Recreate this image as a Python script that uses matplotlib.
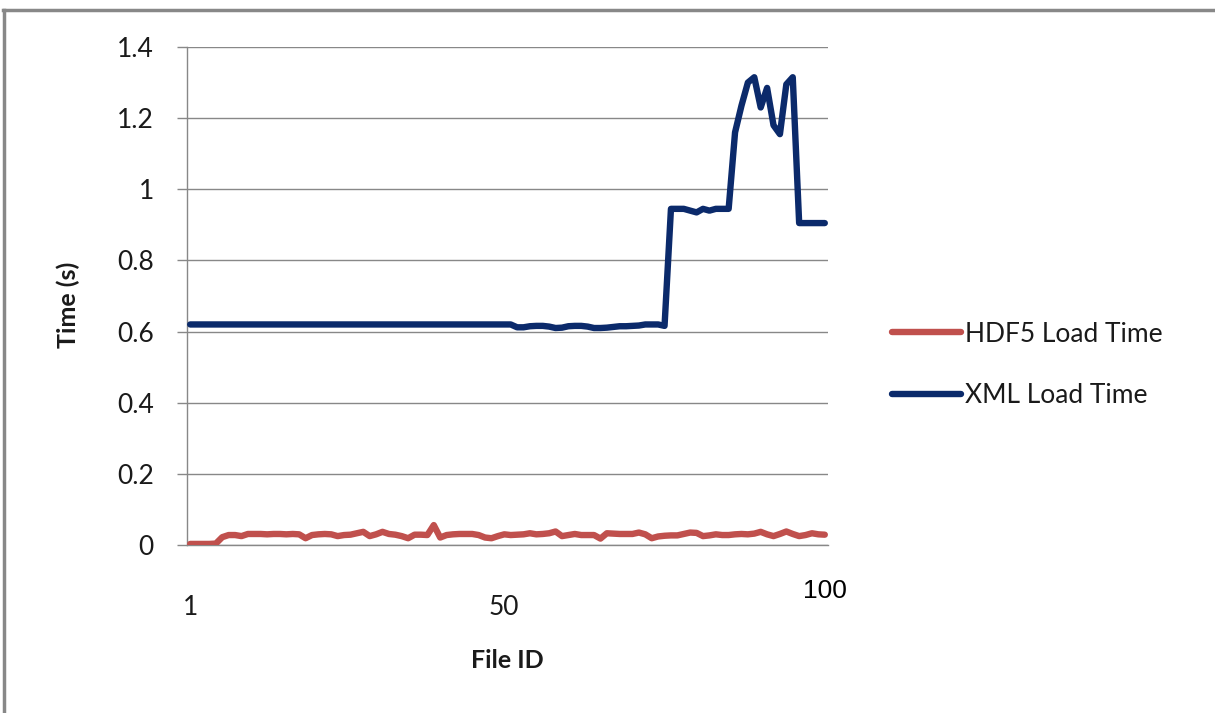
import matplotlib
matplotlib.use("Agg")
import matplotlib.pyplot as plt
from matplotlib.lines import Line2D

file_ids = list(range(1, 101))

hdf5_load = [
    0.003, 0.003, 0.003, 0.003, 0.004, 0.022, 0.028, 0.028, 0.025, 0.031,
    0.031, 0.031, 0.030, 0.031, 0.031, 0.030, 0.031, 0.030, 0.019, 0.028,
    0.030, 0.031, 0.030, 0.025, 0.028, 0.029, 0.033, 0.037, 0.025, 0.030,
    0.037, 0.031, 0.029, 0.025, 0.019, 0.029, 0.029, 0.028, 0.056, 0.021,
    0.028, 0.030, 0.031, 0.031, 0.031, 0.028, 0.021, 0.019, 0.025, 0.030,
    0.028, 0.029, 0.030, 0.033, 0.030, 0.031, 0.033, 0.038, 0.025, 0.028,
    0.031, 0.028, 0.028, 0.028, 0.018, 0.033, 0.032, 0.031, 0.031, 0.031,
    0.035, 0.030, 0.019, 0.024, 0.026, 0.027, 0.027, 0.031, 0.035, 0.034,
    0.025, 0.027, 0.030, 0.028, 0.028, 0.030, 0.031, 0.030, 0.032, 0.037,
    0.030, 0.025, 0.031, 0.038, 0.031, 0.025, 0.028, 0.033, 0.030, 0.029,
]

xml_load = [0.62] * 50 + [
    0.62, 0.612, 0.612, 0.615, 0.616, 0.616, 0.614, 0.610, 0.611, 0.615,
    0.616, 0.616, 0.614, 0.610, 0.610, 0.611, 0.613, 0.615, 0.615, 0.616,
    0.617, 0.620, 0.620, 0.620, 0.616,
    0.945, 0.945, 0.945, 0.940, 0.935, 0.945, 0.940, 0.945, 0.945, 0.945,
    1.16, 1.235, 1.30, 1.315, 1.23, 1.285, 1.18, 1.155, 1.295, 1.315,
    0.905, 0.905, 0.905, 0.905, 0.905,
]

y_ticks = [0, 0.2, 0.4, 0.6, 0.8, 1.0, 1.2, 1.4]
y_tick_labels = ["0", "0.2", "0.4", "0.6", "0.8", "1", "1.2", "1.4"]
x_ticks = [1, 50]
x_tick_labels = ["1", "50"]

FONT = ["Lato", "DejaVu Sans"]
TXT = "#1a1a1a"
W, H = 1215, 713
fig = plt.figure(figsize=(W / 100, H / 100), dpi=100)

# axes: left 187, right 828, top 47, bottom 545 (pixels)
ax = fig.add_axes([187 / W, 1 - 545 / H, (828 - 187) / W, (545 - 47) / H])

ax.plot(file_ids, hdf5_load, color="#C0504D", lw=4.6, solid_joinstyle="round",
        solid_capstyle="round", label="HDF5 Load Time", zorder=3)
ax.plot(file_ids, xml_load, color="#0B2A6B", lw=4.6, solid_joinstyle="round",
        solid_capstyle="round", label="XML Load Time", zorder=3)

ax.set_xlim(0.5, 100.5)
ax.set_ylim(0, 1.4)
ax.set_yticks(y_ticks)
ax.set_yticklabels(y_tick_labels, fontsize=19, family=FONT, color=TXT)
ax.set_xticks(x_ticks)
ax.set_xticklabels(x_tick_labels, fontsize=19, family=FONT, color=TXT)
ax.tick_params(axis="x", length=0, pad=36)
ax.tick_params(axis="y", length=7, width=1, color="#888888", pad=17)
ax.yaxis.grid(True, color="#888888", lw=1)
ax.set_axisbelow(True)
for s in ("top", "right"):
    ax.spines[s].set_visible(False)
for s in ("left", "bottom"):
    ax.spines[s].set_color("#888888")
    ax.spines[s].set_linewidth(1)

ax.text(100, -0.092, "100", transform=ax.get_xaxis_transform(), ha="center",
        va="center", fontsize=19, family=["Liberation Sans", "DejaVu Sans"], color="black")

fig.text(68 / W, 1 - 305 / H, "Time (s)", rotation=90, ha="center", va="center",
         fontsize=18, fontweight="bold", family=FONT, color=TXT)
fig.text(507 / W, 1 - 661 / H, "File ID", ha="center", va="center",
         fontsize=18, fontweight="bold", family=FONT, color=TXT)

handles = [Line2D([], [], color="#C0504D", lw=4.6, solid_capstyle="round"),
           Line2D([], [], color="#0B2A6B", lw=4.6, solid_capstyle="round")]
leg = fig.legend(handles, ["HDF5 Load Time", "XML Load Time"],
                 loc="center left", bbox_to_anchor=(892 / W, 1 - 365 / H),
                 frameon=False, handlelength=2.6, handletextpad=0.15,
                 labelspacing=1.4, borderaxespad=0, borderpad=0,
                 prop={"family": FONT, "size": 19})
for t in leg.get_texts():
    t.set_color(TXT)

# outer chart border (top and left visible)
fig.add_artist(Line2D([3.5 / W, 3.5 / W], [0, 1 - 10 / H], color="#888888", lw=2.5,
                      transform=fig.transFigure))
fig.add_artist(Line2D([2.5 / W, 1], [1 - 10 / H, 1 - 10 / H], color="#888888", lw=2.5,
                      transform=fig.transFigure))

fig.savefig("out.png", dpi=100, facecolor="white")
